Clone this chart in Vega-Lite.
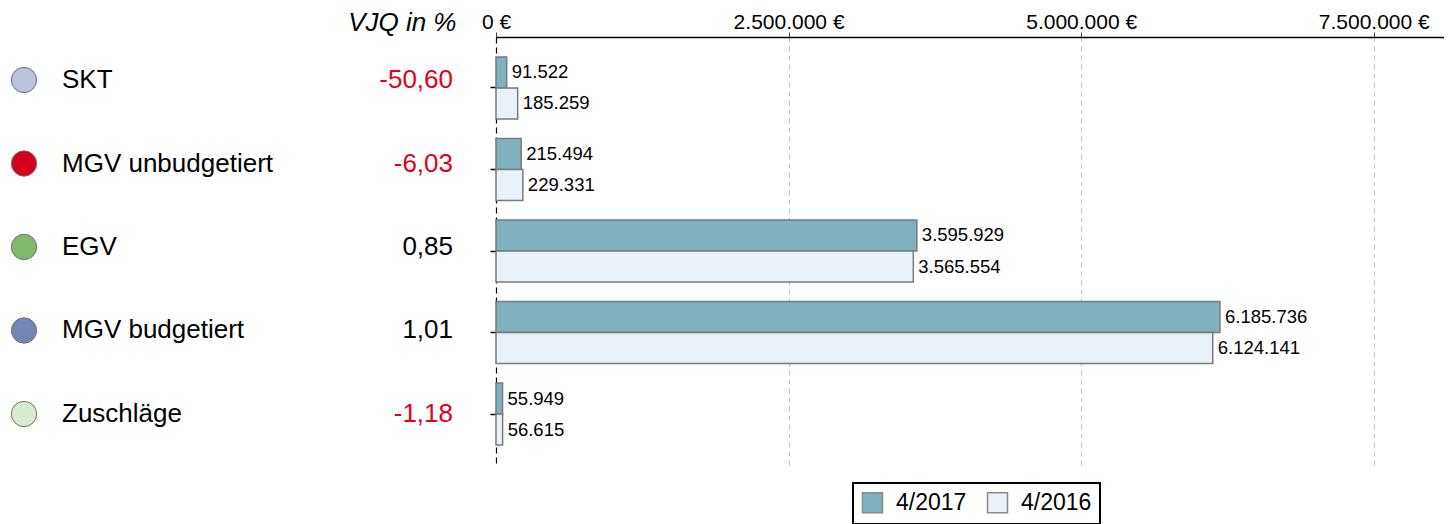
{
  "$schema": "https://vega.github.io/schema/vega-lite/v6.json",
  "padding": {"left": 0, "top": 9, "right": 0, "bottom": 0},
  "bounds": "flush",
  "spacing": 448,
  "resolve": {"scale": {"color": "independent"}, "legend": {"color": "independent"}},
  "config": {
    "view": {"stroke": null},
    "font": "Liberation Sans",
    "locale": {"number": {"decimal": ",", "thousands": ".", "grouping": [3], "currency": ["", " €"], "minus": "-"}}
  },
  "datasets": {
    "cats": [
      {"category": "SKT", "pct": -50.60},
      {"category": "MGV unbudgetiert", "pct": -6.03},
      {"category": "EGV", "pct": 0.85},
      {"category": "MGV budgetiert", "pct": 1.01},
      {"category": "Zuschläge", "pct": -1.18}
    ],
    "bars": [
      {"category": "SKT", "year": "4/2017", "value": 91522},
      {"category": "SKT", "year": "4/2016", "value": 185259},
      {"category": "MGV unbudgetiert", "year": "4/2017", "value": 215494},
      {"category": "MGV unbudgetiert", "year": "4/2016", "value": 229331},
      {"category": "EGV", "year": "4/2017", "value": 3595929},
      {"category": "EGV", "year": "4/2016", "value": 3565554},
      {"category": "MGV budgetiert", "year": "4/2017", "value": 6185736},
      {"category": "MGV budgetiert", "year": "4/2016", "value": 6124141},
      {"category": "Zuschläge", "year": "4/2017", "value": 55949},
      {"category": "Zuschläge", "year": "4/2016", "value": 56615}
    ]
  },
  "hconcat": [
    {
      "width": 48,
      "height": 420,
      "data": {"name": "cats"},
      "encoding": {
        "y": {
          "field": "category",
          "type": "nominal",
          "sort": ["SKT", "MGV unbudgetiert", "EGV", "MGV budgetiert", "Zuschläge"],
          "scale": {"type": "point", "padding": 0.515},
          "axis": null
        }
      },
      "layer": [
        {
          "mark": {"type": "point", "shape": "circle", "filled": true, "size": 640, "stroke": "#707070", "strokeWidth": 1, "opacity": 1},
          "encoding": {
            "color": {
              "field": "category",
              "type": "nominal",
              "scale": {
                "domain": ["SKT", "MGV unbudgetiert", "EGV", "MGV budgetiert", "Zuschläge"],
                "range": ["#b9c3dd", "#d4001f", "#7dbb67", "#7285b5", "#d9ead3"]
              },
              "legend": null
            }
          }
        },
        {
          "mark": {"type": "text", "align": "left", "baseline": "middle", "dx": 38, "fontSize": 26, "color": "black"},
          "encoding": {"text": {"field": "category", "type": "nominal"}}
        },
        {
          "mark": {"type": "text", "align": "right", "baseline": "middle", "dx": 429, "fontSize": 26},
          "encoding": {
            "text": {"field": "pct", "type": "quantitative", "format": ".2f"},
            "color": {"condition": {"test": "datum.pct < 0", "value": "#e2001a"}, "value": "black"}
          }
        }
      ]
    },
    {
      "width": 948,
      "height": 428,
      "data": {"name": "bars"},
      "encoding": {
        "y": {
          "field": "category",
          "type": "nominal",
          "sort": ["SKT", "MGV unbudgetiert", "EGV", "MGV budgetiert", "Zuschläge"],
          "scale": {"paddingInner": 0.239, "paddingOuter": 0.245},
          "axis": {
            "labels": false,
            "ticks": true,
            "tickSize": 6,
            "tickColor": "black",
            "tickWidth": 1.5,
            "domain": true,
            "domainColor": "black",
            "domainDash": [6, 4],
            "domainWidth": 1.2,
            "grid": false,
            "title": "VJQ in %",
            "titleAngle": 0,
            "titleAlign": "right",
            "titleBaseline": "alphabetic",
            "titleX": -40,
            "titleY": -7,
            "titleFontSize": 26,
            "titleFontStyle": "italic",
            "titleFontWeight": "normal",
            "titleColor": "black"
          }
        },
        "yOffset": {
          "field": "year",
          "type": "nominal",
          "sort": ["4/2017", "4/2016"],
          "scale": {"paddingInner": 0, "paddingOuter": 0}
        },
        "x": {
          "field": "value",
          "type": "quantitative",
          "scale": {"domain": [0, 8100000], "nice": false, "zero": true},
          "axis": {
            "orient": "top",
            "values": [0, 2500000, 5000000, 7500000],
            "format": ",d",
            "labelExpr": "datum.label + ' €'",
            "labelFontSize": 21,
            "labelColor": "black",
            "labelPadding": 0,
            "labelFlush": false,
            "tickSize": 5,
            "tickColor": "#444444",
            "domainColor": "black",
            "domainWidth": 1.5,
            "grid": true,
            "gridDash": [5, 4],
            "gridColor": {"condition": {"test": "datum.value === 0", "value": "transparent"}, "value": "#c0c0c0"},
            "title": null
          }
        }
      },
      "layer": [
        {
          "mark": {"type": "bar", "stroke": "#7a7a7a", "strokeWidth": 1.5},
          "encoding": {
            "color": {
              "field": "year",
              "type": "nominal",
              "scale": {"domain": ["4/2017", "4/2016"], "range": ["#7fb1bf", "#e9f2f8"]},
              "legend": {
                "title": null,
                "orient": "none",
                "legendX": 357,
                "legendY": 446,
                "direction": "horizontal",
                "symbolType": "square",
                "symbolSize": 400,
                "symbolStrokeColor": "#8a8a8a",
                "symbolStrokeWidth": 1.5,
                "symbolOpacity": 1,
                "labelFontSize": 23,
                "labelColor": "black",
                "labelOffset": 12,
                "columnPadding": 17,
                "padding": 8,
                "strokeColor": "black",
                "fillColor": "white",
                "encode": {"legend": {"update": {"strokeWidth": {"value": 2}}}}
              }
            }
          }
        },
        {
          "mark": {"type": "text", "align": "left", "baseline": "middle", "dx": 5, "fontSize": 18.5, "color": "black"},
          "encoding": {"text": {"field": "value", "type": "quantitative", "format": ",d"}}
        }
      ]
    }
  ]
}
